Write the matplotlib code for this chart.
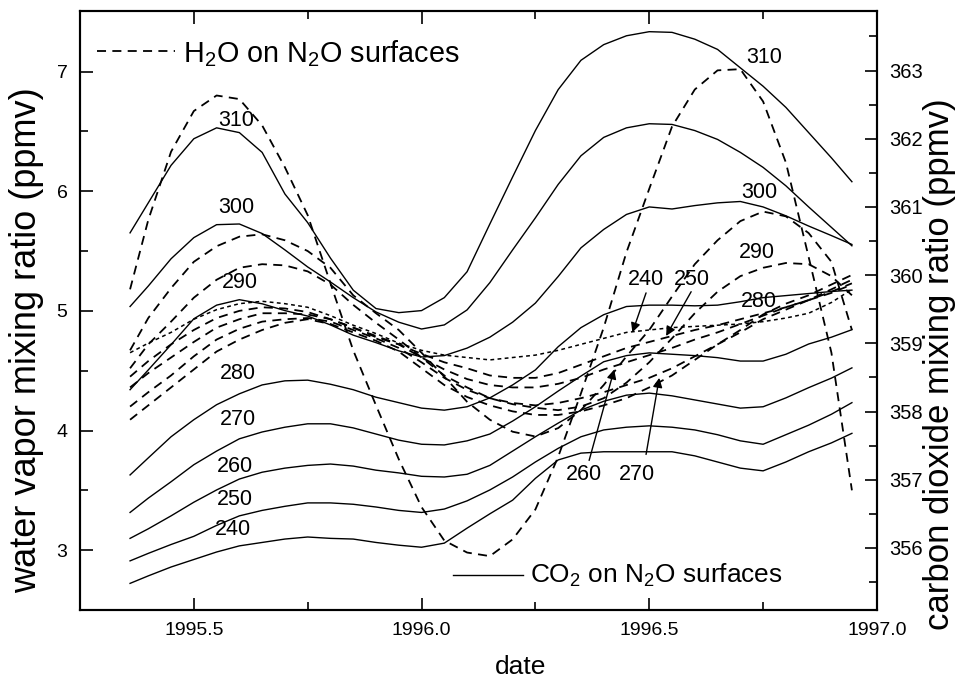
import matplotlib
matplotlib.use('Agg')
import matplotlib.pyplot as plt

plt.rcParams['font.family'] = ['Liberation Sans', 'DejaVu Sans']
plt.rcParams['mathtext.fontset'] = 'custom'
plt.rcParams['mathtext.rm'] = 'Liberation Sans'

# sample dates (decimal year)
dates = [1995.36, 1995.40, 1995.45, 1995.50, 1995.55, 1995.60, 1995.65, 1995.70,
         1995.75, 1995.80, 1995.85, 1995.90, 1995.95, 1996.00, 1996.05, 1996.10,
         1996.15, 1996.20, 1996.25, 1996.30, 1996.35, 1996.40, 1996.45, 1996.50,
         1996.55, 1996.60, 1996.65, 1996.70, 1996.75, 1996.80, 1996.85, 1996.90,
         1996.945]

# CO2 (ppmv) on N2O surfaces, labelled by potential temperature (K)
co2_310 = [360.62, 361.06, 361.61, 362.00, 362.16, 362.09, 361.80, 361.19, 360.77,
           360.25, 359.78, 359.51, 359.45, 359.48, 359.67, 360.05, 360.75, 361.44,
           362.12, 362.72, 363.15, 363.38, 363.51, 363.57, 363.56, 363.46, 363.31,
           363.04, 362.77, 362.46, 362.09, 361.72, 361.37]
co2_300 = [359.54, 359.84, 360.24, 360.55, 360.74, 360.75, 360.61, 360.37, 360.12,
           359.90, 359.67, 359.46, 359.31, 359.21, 359.27, 359.49, 359.89, 360.37,
           360.84, 361.33, 361.75, 362.02, 362.16, 362.22, 362.21, 362.12, 361.99,
           361.80, 361.58, 361.31, 361.00, 360.70, 360.43]
co2_290 = [358.32, 358.61, 358.98, 359.36, 359.56, 359.64, 359.58, 359.48, 359.40,
           359.27, 359.12, 359.01, 358.89, 358.80, 358.82, 358.93, 359.09, 359.31,
           359.59, 359.98, 360.40, 360.67, 360.89, 361.00, 360.97, 361.02, 361.06,
           361.08, 361.00, 360.87, 360.72, 360.58, 360.45]
co2_280 = [357.07, 357.32, 357.63, 357.88, 358.10, 358.26, 358.39, 358.45, 358.46,
           358.40, 358.32, 358.21, 358.13, 358.05, 358.02, 358.07, 358.20, 358.39,
           358.61, 358.95, 359.23, 359.42, 359.54, 359.56, 359.56, 359.55, 359.56,
           359.61, 359.67, 359.70, 359.73, 359.76, 359.78]
co2_270 = [356.52, 356.73, 356.97, 357.22, 357.42, 357.60, 357.70, 357.77, 357.82,
           357.82, 357.76, 357.67, 357.58, 357.52, 357.51, 357.57, 357.67, 357.86,
           358.07, 358.30, 358.52, 358.73, 358.82, 358.86, 358.84, 358.82, 358.79,
           358.74, 358.74, 358.84, 358.99, 359.09, 359.20]
co2_260 = [356.14, 356.28, 356.47, 356.67, 356.85, 357.01, 357.11, 357.17, 357.21,
           357.23, 357.20, 357.14, 357.10, 357.05, 357.04, 357.08, 357.21, 357.42,
           357.63, 357.83, 358.02, 358.15, 358.24, 358.27, 358.23, 358.17, 358.11,
           358.05, 358.07, 358.20, 358.35, 358.49, 358.64]
co2_250 = [355.81, 355.92, 356.05, 356.17, 356.33, 356.47, 356.55, 356.61, 356.66,
           356.66, 356.64, 356.60, 356.55, 356.52, 356.57, 356.69, 356.85, 357.04,
           357.26, 357.46, 357.63, 357.73, 357.77, 357.79, 357.77, 357.73, 357.66,
           357.57, 357.52, 357.66, 357.80, 357.96, 358.13]
co2_240 = [355.48, 355.59, 355.72, 355.83, 355.94, 356.03, 356.08, 356.13, 356.16,
           356.14, 356.13, 356.08, 356.04, 356.01, 356.07, 356.29, 356.50, 356.70,
           357.02, 357.29, 357.39, 357.41, 357.41, 357.41, 357.41, 357.35, 357.26,
           357.17, 357.13, 357.26, 357.41, 357.54, 357.68]

# H2O (ppmv) on N2O surfaces
h2o_310 = [5.18, 5.76, 6.33, 6.67, 6.80, 6.77, 6.55, 6.20, 5.80, 5.23, 4.67, 4.21,
           3.76, 3.36, 3.08, 2.98, 2.95, 3.09, 3.34, 3.78, 4.31, 4.86, 5.49, 6.02,
           6.54, 6.85, 7.01, 7.02, 6.75, 6.24, 5.45, 4.65, 3.50]
h2o_300 = [4.67, 4.94, 5.19, 5.41, 5.54, 5.62, 5.64, 5.59, 5.50, 5.36, 5.13, 4.98,
           4.84, 4.65, 4.45, 4.24, 4.09, 3.99, 3.95, 4.02, 4.17, 4.38, 4.62, 4.84,
           5.12, 5.39, 5.59, 5.75, 5.83, 5.79, 5.65, 5.41, 4.84]
h2o_290 = [4.52, 4.72, 4.91, 5.11, 5.26, 5.36, 5.39, 5.38, 5.33, 5.22, 5.05, 4.90,
           4.76, 4.61, 4.46, 4.36, 4.27, 4.22, 4.19, 4.17, 4.20, 4.27, 4.40, 4.57,
           4.77, 4.98, 5.16, 5.29, 5.36, 5.40, 5.39, 5.29, 5.13]
h2o_280 = [4.09, 4.21, 4.36, 4.51, 4.66, 4.76, 4.84, 4.90, 4.93, 4.89, 4.82, 4.75,
           4.66, 4.52, 4.38, 4.28, 4.21, 4.16, 4.13, 4.13, 4.16, 4.21, 4.27, 4.36,
           4.46, 4.59, 4.72, 4.84, 4.97, 5.06, 5.13, 5.22, 5.30]
h2o_270 = [4.20, 4.32, 4.46, 4.62, 4.76, 4.85, 4.91, 4.93, 4.94, 4.91, 4.84, 4.77,
           4.69, 4.57, 4.44, 4.34, 4.27, 4.23, 4.21, 4.23, 4.27, 4.32, 4.38, 4.44,
           4.52, 4.62, 4.72, 4.82, 4.93, 5.01, 5.09, 5.18, 5.26]
h2o_260 = [4.36, 4.48, 4.61, 4.74, 4.86, 4.93, 4.98, 4.98, 4.97, 4.93, 4.86, 4.79,
           4.72, 4.61, 4.51, 4.43, 4.38, 4.36, 4.36, 4.39, 4.44, 4.51, 4.57, 4.63,
           4.69, 4.76, 4.82, 4.89, 4.96, 5.03, 5.09, 5.16, 5.23]
h2o_250 = [4.45, 4.58, 4.72, 4.84, 4.94, 5.00, 5.03, 5.02, 4.99, 4.93, 4.86, 4.78,
           4.72, 4.64, 4.57, 4.52, 4.46, 4.44, 4.44, 4.48, 4.55, 4.62, 4.69, 4.74,
           4.79, 4.84, 4.88, 4.93, 4.98, 5.03, 5.09, 5.15, 5.22]
h2o_240 = [4.65, 4.73, 4.82, 4.93, 5.01, 5.06, 5.08, 5.06, 5.03, 4.96, 4.88, 4.81,
           4.73, 4.67, 4.63, 4.61, 4.59, 4.61, 4.63, 4.67, 4.72, 4.77, 4.82, 4.84,
           4.86, 4.87, 4.88, 4.89, 4.91, 4.94, 4.98, 5.07, 5.18]

co2_series = [co2_310, co2_300, co2_290, co2_280, co2_270, co2_260, co2_250, co2_240]
h2o_series = [h2o_310, h2o_300, h2o_290, h2o_280, h2o_270, h2o_260, h2o_250, h2o_240]

fig = plt.figure(figsize=(9.6, 6.89), dpi=100)
ax = fig.add_axes([0.0833, 0.1147, 0.8302, 0.8700])
ax2 = ax.twinx()

for ys in co2_series:
    ax2.plot(dates, ys, color='black', lw=1.0, solid_joinstyle='round')

for ys in h2o_series[:-1]:
    ax.plot(dates, ys, color='black', lw=1.3, dashes=(5, 3.5))
ax.plot(dates, h2o_240, color='black', lw=1.1, dashes=(2.5, 2.2))

ax.set_xlim(1995.25, 1997.0)
ax.set_ylim(2.5, 7.51)
ax2.set_ylim(355.09, 363.88)

ax.set_xticks([1995.5, 1996.0, 1996.5, 1997.0])
ax.set_xticks([1995.25, 1995.75, 1996.25, 1996.75], minor=True)
ax.set_xticklabels(['1995.5', '1996.0', '1996.5', '1997.0'])
ax.set_yticks([3, 4, 5, 6, 7])
ax.set_yticks([3.5, 4.5, 5.5, 6.5], minor=True)
ax2.set_yticks([356, 357, 358, 359, 360, 361, 362, 363])
ax2.set_yticks([355.5, 356.5, 357.5, 358.5, 359.5, 360.5, 361.5, 362.5, 363.5], minor=True)

ax.tick_params(which='both', direction='in', top=True, right=False, labelsize=14, pad=9, width=1.2)
ax.tick_params(which='major', length=9)
ax.tick_params(which='minor', length=6)
ax2.tick_params(which='both', direction='in', labelsize=14.5, pad=9, width=1.2)
ax2.tick_params(which='major', length=9)
ax2.tick_params(which='minor', length=6)
for sp in ax.spines.values():
    sp.set_linewidth(1.5)
for sp in ax2.spines.values():
    sp.set_linewidth(1.5)

ax.set_xlabel('date', fontsize=19)
ax.xaxis.set_label_coords(0.553, -0.075)
ax.set_ylabel('water vapor mixing ratio (ppmv)', fontsize=26)
ax.yaxis.set_label_coords(-0.045, 0.45)
ax2.set_ylabel('carbon dioxide mixing ratio (ppmv)', fontsize=25)
ax2.yaxis.set_label_coords(1.058, 0.41)

# curve labels
left_labels = [('310', 1995.594, 6.59), ('300', 1995.594, 5.86), ('290', 1995.601, 5.24),
               ('280', 1995.596, 4.48), ('270', 1995.596, 4.09), ('260', 1995.590, 3.70),
               ('250', 1995.590, 3.42), ('240', 1995.586, 3.17)]
right_labels = [('310', 1996.752, 7.12), ('300', 1996.741, 5.99), ('290', 1996.737, 5.49),
                ('280', 1996.741, 5.08), ('240', 1996.493, 5.26), ('250', 1996.594, 5.26),
                ('260', 1996.357, 3.63), ('270', 1996.474, 3.63)]
for txt, x, y in left_labels + right_labels:
    ax.text(x, y, txt, fontsize=15.5, ha='center', va='center')

arrows = [((1996.463, 4.82), (1996.493, 5.15)),
          ((1996.537, 4.79), (1996.592, 5.16)),
          ((1996.423, 4.51), (1996.368, 3.75)),
          ((1996.522, 4.44), (1996.493, 3.80))]
for tip, start in arrows:
    ax.annotate('', xy=tip, xytext=start,
                arrowprops=dict(arrowstyle='-|>', lw=1.0, color='black',
                                mutation_scale=14, shrinkA=0, shrinkB=0))

# in-plot legends
ax.plot([0.021, 0.119], [0.933, 0.933], transform=ax.transAxes, color='black',
        lw=1.3, dashes=(5, 3.5))
ax.text(0.129, 0.914, r'H$_\mathregular{2}$O on N$_\mathregular{2}$O surfaces',
        transform=ax.transAxes, fontsize=20.7, ha='left', va='baseline')
ax.plot([0.468, 0.556], [0.058, 0.058], transform=ax.transAxes, color='black', lw=1.0)
ax.text(0.565, 0.045, r'CO$_\mathregular{2}$ on N$_\mathregular{2}$O surfaces',
        transform=ax.transAxes, fontsize=18.9, ha='left', va='baseline')

fig.savefig('out.png', dpi=100)
